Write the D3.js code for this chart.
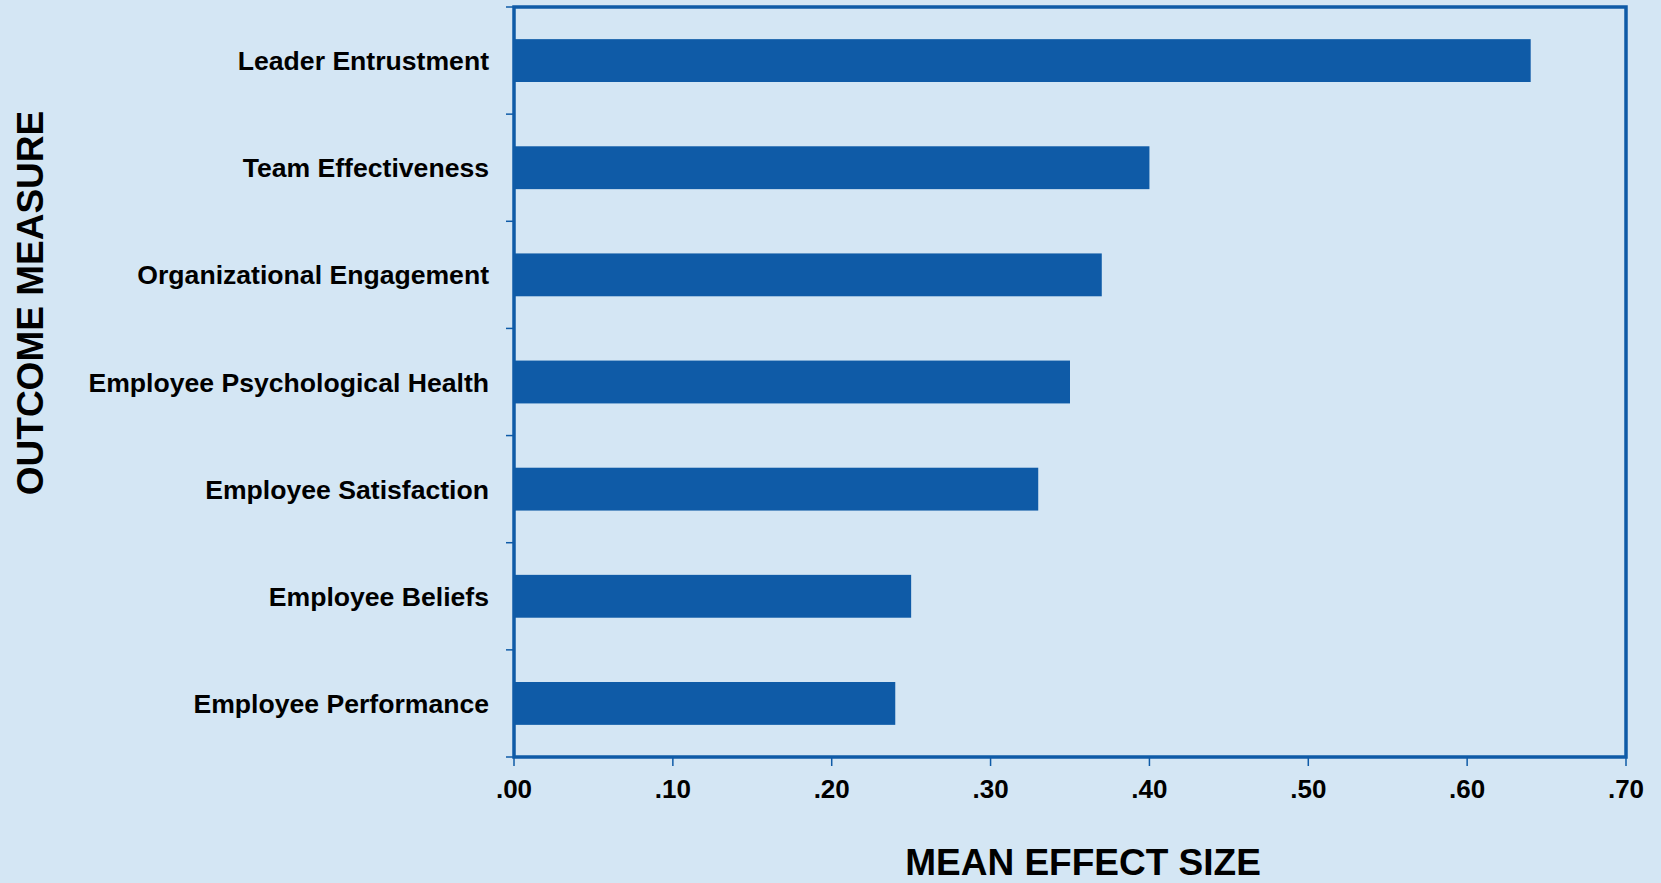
<!DOCTYPE html>
<html>
<head>
<meta charset="utf-8">
<script src="https://cdn.jsdelivr.net/npm/d3@7"></script>
<style>
  html, body { margin: 0; padding: 0; background: #d4e6f4; }
  svg { display: block; }
  text { font-family: "Liberation Sans", Arial, sans-serif; font-weight: bold; fill: #000; }
</style>
</head>
<body>
<svg id="chart" width="1661" height="883"></svg>
<script>
const categories = ["Leader Entrustment", "Team Effectiveness", "Organizational Engagement",
  "Employee Psychological Health", "Employee Satisfaction", "Employee Beliefs", "Employee Performance"];
const values = [0.64, 0.40, 0.37, 0.35, 0.33, 0.25, 0.24];
const xTicks = [0, 0.1, 0.2, 0.3, 0.4, 0.5, 0.6, 0.7];
const xTickLabels = [".00", ".10", ".20", ".30", ".40", ".50", ".60", ".70"];
const xTitle = "MEAN EFFECT SIZE";
const yTitle = "OUTCOME MEASURE";

const blue = "#0f5ba7";
const W = 1661, H = 883;
const m = { left: 514, right: 35, top: 7, bottom: 126 };
const pw = W - m.left - m.right, ph = H - m.top - m.bottom;

const svg = d3.select("#chart");
svg.append("rect").attr("width", W).attr("height", H).attr("fill", "#d4e6f4");
const g = svg.append("g").attr("transform", `translate(${m.left},${m.top})`);

const x = d3.scaleLinear().domain([0, 0.7]).range([0, pw]);
const y = d3.scaleBand().domain(categories).range([0, ph]).paddingInner(0.6).paddingOuter(0.3);

// bars
g.selectAll("rect.bar").data(categories).join("rect")
  .attr("class", "bar")
  .attr("x", 0)
  .attr("y", d => y(d))
  .attr("width", (d, i) => x(values[i]))
  .attr("height", y.bandwidth())
  .attr("fill", blue);

// y ticks at band boundaries
const yBounds = d3.range(categories.length + 1).map(i => i * ph / categories.length);
g.selectAll("line.ytick").data(yBounds).join("line")
  .attr("x1", -8).attr("x2", 0)
  .attr("y1", d => d).attr("y2", d => d)
  .attr("stroke", blue).attr("stroke-width", 1.5);

// category labels
g.selectAll("text.cat").data(categories).join("text")
  .attr("x", -25)
  .attr("y", d => y(d) + y.bandwidth() / 2)
  .attr("dy", "0.36em")
  .attr("text-anchor", "end")
  .style("font-size", "26.6px")
  .text(d => d);

// x ticks
g.selectAll("line.xtick").data(xTicks).join("line")
  .attr("x1", d => x(d)).attr("x2", d => x(d))
  .attr("y1", ph).attr("y2", ph + 9)
  .attr("stroke", blue).attr("stroke-width", 1.5);

g.selectAll("text.xlab").data(xTicks).join("text")
  .attr("x", d => x(d))
  .attr("y", ph + 41)
  .attr("text-anchor", "middle")
  .style("font-size", "26px")
  .text((d, i) => xTickLabels[i]);

// frame
g.append("rect")
  .attr("x", 0).attr("y", 0).attr("width", pw).attr("height", ph)
  .attr("fill", "none").attr("stroke", blue).attr("stroke-width", 3.5);

// titles
svg.append("text")
  .attr("x", 1083).attr("y", 875)
  .attr("text-anchor", "middle")
  .style("font-size", "37px")
  .text(xTitle);

svg.append("text")
  .attr("transform", "translate(43,303) rotate(-90)")
  .attr("text-anchor", "middle")
  .style("font-size", "37px")
  .text(yTitle);
</script>
</body>
</html>
